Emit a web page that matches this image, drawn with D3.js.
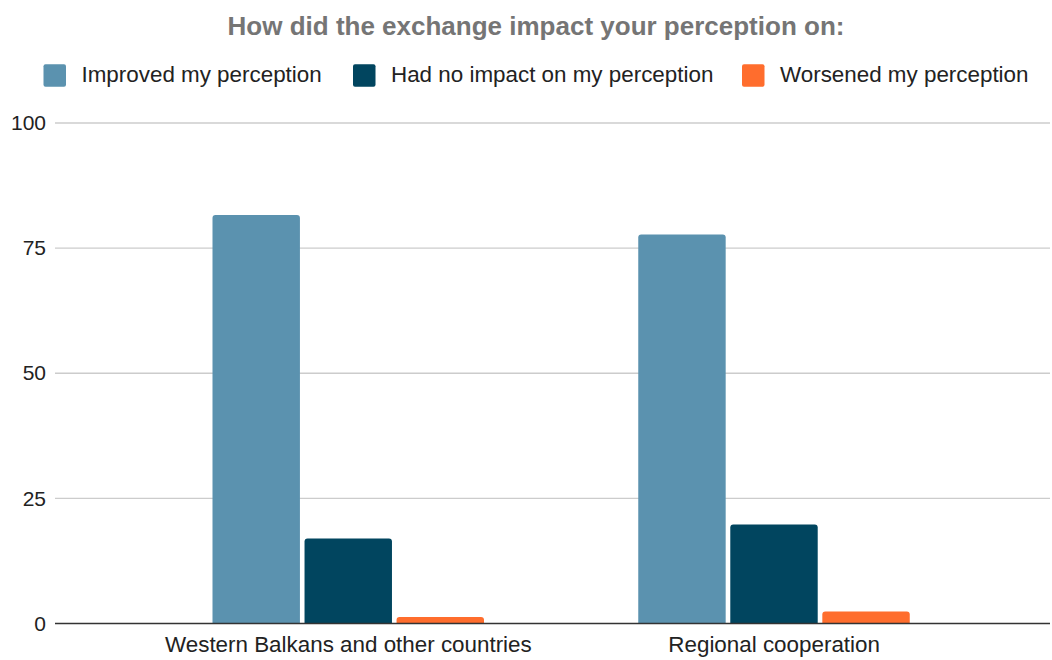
<!DOCTYPE html>
<html><head><meta charset="utf-8">
<script src="https://cdn.jsdelivr.net/npm/d3@7"></script>
<style>body{margin:0;background:#fff;}svg{display:block;font-family:"Liberation Sans",Arial,sans-serif;}</style>
</head><body>
<svg id="c" width="1052" height="660"></svg>
<script>
const categories = ["Western Balkans and other countries", "Regional cooperation"];
const seriesNames = ["Improved my perception", "Had no impact on my perception", "Worsened my perception"];
const improved = [81.6, 77.7];
const noImpact = [17.0, 19.8];
const worsened = [1.3, 2.4];
const yTicks = [0, 25, 50, 75, 100];
const colors = ["#5b92af", "#01455f", "#ff6d2d"];

(function () {
const series = [improved, noImpact, worsened];
const svg = d3.select("#c");
const plotLeft = 55, plotRight = 1050, plotTop = 123, plotBottom = 623.5;
const FONT = "Liberation Sans, Arial, sans-serif";

const y = d3.scaleLinear().domain([0, 100]).range([plotBottom, plotTop]);
const x0 = d3.scaleBand().domain(categories).range([135.5, 987]).paddingInner(0).paddingOuter(0);
const x1 = d3.scaleBand().domain(seriesNames).range([212.5 - 135.5, 212.5 - 135.5 + 271.5]).paddingInner(0.05).paddingOuter(0);

svg.append("g").selectAll("line").data(yTicks.filter(d => d > 0)).join("line")
  .attr("x1", plotLeft).attr("x2", plotRight)
  .attr("y1", d => y(d)).attr("y2", d => y(d))
  .attr("stroke", "#cccccc").attr("stroke-width", 1.3);

const yAxis = svg.append("g").attr("transform", `translate(${plotLeft},0)`)
  .call(d3.axisLeft(y).tickValues(yTicks).tickSize(0).tickPadding(9));
yAxis.select(".domain").remove();
yAxis.selectAll("text").attr("font-size", 21).attr("fill", "#222").attr("font-family", FONT);

function topRounded(x, yy, w, h, r) {
  r = Math.min(r, h, w / 2);
  return `M${x},${yy + h}V${yy + r}Q${x},${yy} ${x + r},${yy}H${x + w - r}Q${x + w},${yy} ${x + w},${yy + r}V${yy + h}Z`;
}

const g = svg.append("g");
categories.forEach((cat, ci) => {
  series.forEach((vals, si) => {
    const bx = x0(cat) + x1(seriesNames[si]);
    const by = y(vals[ci]);
    g.append("path")
      .attr("d", topRounded(bx, by, x1.bandwidth(), plotBottom - by, 3))
      .attr("fill", colors[si]);
  });
});

const xAxis = svg.append("g").attr("transform", `translate(0,${plotBottom})`)
  .call(d3.axisBottom(x0).tickSize(0).tickPadding(0));
xAxis.select(".domain").remove();
svg.append("line").attr("x1", plotLeft).attr("x2", plotRight).attr("y1", plotBottom).attr("y2", plotBottom)
  .attr("stroke", "#333").attr("stroke-width", 1.3);
xAxis.selectAll("text").attr("dy", null).attr("y", 652.3 - plotBottom)
  .attr("font-size", 22.4).attr("fill", "#222").attr("font-family", FONT);

svg.append("text").attr("x", 536).attr("y", 35).attr("text-anchor", "middle")
  .attr("font-size", 26).attr("font-weight", "bold").attr("fill", "#757575")
  .text("How did the exchange impact your perception on:");

const legendX = [43.5, 353, 742];
const lg = svg.append("g");
seriesNames.forEach((n, i) => {
  lg.append("rect").attr("x", legendX[i]).attr("y", 64.3).attr("width", 22.5).attr("height", 22.5).attr("rx", 2)
    .attr("fill", colors[i]);
  lg.append("text").attr("x", legendX[i] + 38).attr("y", 81.7).attr("font-size", 22.4).attr("fill", "#222").text(n);
});
})();
</script>
</body></html>
